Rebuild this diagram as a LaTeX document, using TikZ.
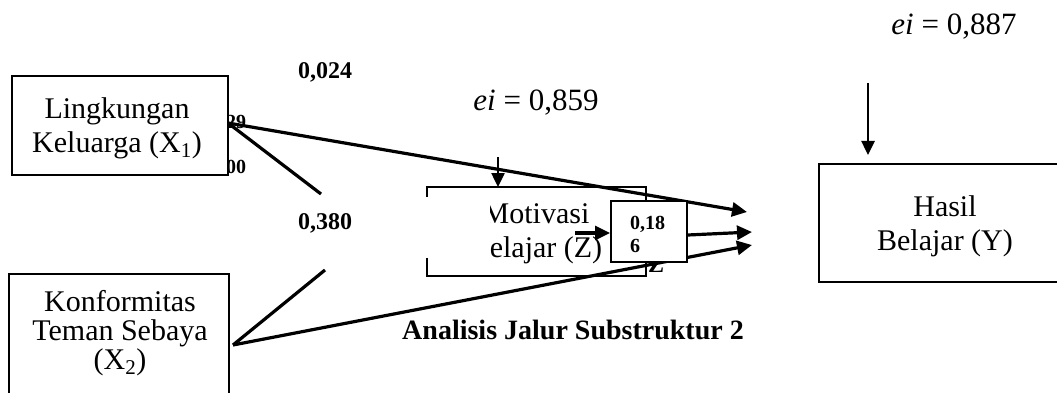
\documentclass[tikz,border=0pt]{standalone}
\usepackage{fontspec}
\setmainfont{Liberation Serif}
\usetikzlibrary{arrows.meta}
\begin{document}
\begin{tikzpicture}[x=1pt,y=-1pt,
  box/.style={draw=black, line width=2pt, fill=white, inner sep=0pt},
  boxtext/.style={font=\fontsize{30}{34}\selectfont, align=center, inner sep=0pt},
  coef/.style={font=\fontsize{24}{28}\selectfont\bfseries, inner sep=0pt},
  small/.style={font=\fontsize{20}{23}\selectfont\bfseries, inner sep=0pt},
  conn/.style={line width=3.2pt},
  connarrow/.style={line width=3.2pt, -{Triangle[length=15pt,width=14pt]}},
  errarrow/.style={line width=2.5pt, -{Triangle[length=14pt,width=13pt]}},
  errtext/.style={font=\fontsize{31}{34}\selectfont, inner sep=0pt}
]
\useasboundingbox (0,0) rectangle (1057,393);
\clip (0,0) rectangle (1057,393);

% Motivasi box (partly masked)
\node[box, fill=none, minimum width=219pt, minimum height=89pt] (z) at (536.5,231.5) {};
\node[boxtext] (zt) at (536,234) {Motivasi\\Belajar (Z)};
\fill[white] (415,197) rectangle (490,258);

% error terms
\node[errtext] (ez) at (536,103) {\textit{ei} = 0,859};
\coordinate (ezs) at (498,157);
\coordinate (ezt) at (498,187);
\draw[errarrow] (ezs) -- (ezt);

\node[errtext] (ey) at (954,27) {\textit{ei} = 0,887};
\coordinate (eys) at (868,83);
\coordinate (eyt) at (868,155);
\draw[errarrow] (eys) -- (eyt);

% connector end points
\coordinate (a1) at (228,123);
\coordinate (a2) at (233,345);
\coordinate (c1) at (321,194);
\coordinate (c2) at (325,270);
\coordinate (t1) at (747,212);
\coordinate (t2) at (752,232);
\coordinate (t3) at (752,245);
\coordinate (zin) at (575,233);

\draw[conn] (a1) -- (c1);
\draw[conn] (a2) -- (c2);
\draw[connarrow] (a1) -- (t1);
\draw[connarrow] (a2) -- (t3);

% fragment Z under the small box
\node[coef, anchor=base] (zf) at (656,272) {Z};

% small coefficient box
\node[box, minimum width=76pt, minimum height=61pt] (sb) at (649,231.5) {};
\node[small, anchor=base west] (sb1) at (630,229) {0,18};
\node[small, anchor=base west] (sb2) at (630,252) {6};
\draw[connarrow] (zin) -- (sb.west |- zin);
\draw[connarrow] (sb.east |- 0,235) -- (t2);

% coefficient labels
\node[coef] (l1) at (325,72) {0,024};
\node[coef] (l2) at (325,223) {0,380};
\node[small, anchor=west] (l3) at (226,122) {29};
\node[small, anchor=west] (l4) at (226,167) {00};

% main boxes
\node[box, minimum width=216pt, minimum height=99pt] (x1) at (120,125.5) {};
\node[boxtext] (x1t) at (117,128) {Lingkungan\\Keluarga (X\textsubscript{1})};

\node[box, minimum width=220pt, minimum height=160pt] (x2) at (119,354) {};
\node[boxtext, font=\fontsize{30}{29}\selectfont] (x2t) at (120,333) {Konformitas\\Teman Sebaya\\(X\textsubscript{2})};

\node[box, minimum width=252pt, minimum height=118pt] (y) at (945,223) {};
\node[boxtext] (yt) at (945,226) {Hasil\\Belajar (Y)};

% caption
\node[font=\fontsize{28}{32}\selectfont\bfseries, inner sep=0pt] (cap) at (573,330) {Analisis Jalur Substruktur 2};
\end{tikzpicture}
\end{document}
